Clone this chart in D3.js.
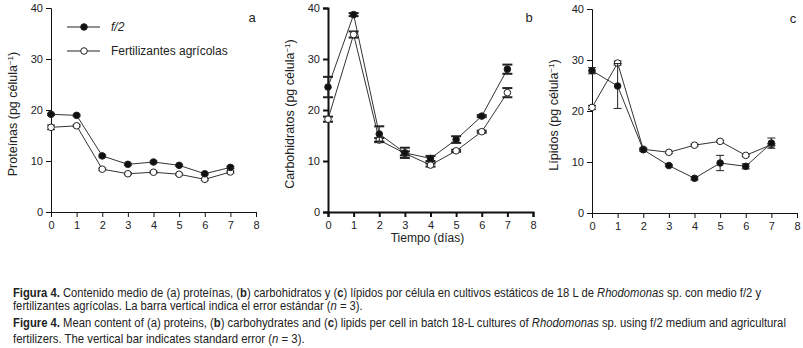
<!DOCTYPE html>
<html>
<head>
<meta charset="utf-8">
<script src="https://cdn.jsdelivr.net/npm/d3@7"></script>
<style>
  body { margin: 0; background: #fff; }
  svg text { font-family: "Liberation Sans Narrow", "Arial Narrow", "Liberation Sans", sans-serif; fill: #222; }
  .caption { font-size: 12px; }
</style>
</head>
<body>
<div id="wrapper"></div>
<script>
// data
const days = [0, 1, 2, 3, 4, 5, 6, 7]
const xTicks = [0, 1, 2, 3, 4, 5, 6, 7, 8]
const yTicks = [0, 10, 20, 30, 40]

const protF2 = [19.15, 18.95, 11.0, 9.35, 9.8, 9.15, 7.5, 8.75]
const protF2Err = [0.2, 0.2, 0.2, 0.2, 0.2, 0.2, 0.2, 0.2]
const protFert = [16.6, 16.9, 8.4, 7.5, 7.8, 7.4, 6.4, 7.85]
const protFertErr = [0.45, 0.2, 0.2, 0.2, 0.2, 0.2, 0.2, 0.2]

const carbF2 = [24.5, 38.7, 15.3, 11.6, 10.5, 14.2, 18.8, 28.0]
const carbF2Err = [2.0, 0.3, 1.5, 1.0, 0.5, 0.65, 0.2, 0.9]
const carbFert = [18.2, 34.8, 14.1, 11.5, 9.2, 12.0, 15.75, 23.4]
const carbFertErr = [0.5, 0.6, 0.4, 0.4, 0.3, 0.2, 0.2, 0.9]

const lipF2 = [27.9, 24.9, 12.4, 9.3, 6.8, 9.8, 9.15, 13.7]
const lipF2Err = [0.6, 4.4, 0.3, 0.2, 0.3, 1.5, 0.5, 1.0]
const lipFert = [20.7, 29.4, 12.5, 11.9, 13.3, 14.05, 11.3, 13.4]
const lipFertErr = [0.4, 0.4, 0.2, 0.2, 0.2, 0.2, 0.2, 0.2]

const legendLabels = ["f/2", "Fertilizantes agrícolas"]

const panels = [
  { letter: "a", title: "Proteínas", f2: protF2, f2Err: protF2Err, fert: protFert, fertErr: protFertErr,
    left: 51, right: 256, top: 8, bottom: 212, bold: false, legend: true },
  { letter: "b", title: "Carbohidratos", f2: carbF2, f2Err: carbF2Err, fert: carbFert, fertErr: carbFertErr,
    left: 328, right: 533, top: 8, bottom: 212, bold: true, legend: false },
  { letter: "c", title: "Lípidos", f2: lipF2, f2Err: lipF2Err, fert: lipFert, fertErr: lipFertErr,
    left: 592, right: 797, top: 9, bottom: 213, bold: false, legend: false },
]

const width = 803
const height = 348

const svg = d3.select("#wrapper")
  .append("svg")
    .attr("width", width)
    .attr("height", height)

panels.forEach(p => {
  const xScale = d3.scaleLinear().domain([0, 8]).range([p.left, p.right])
  const yScale = d3.scaleLinear().domain([0, 40]).range([p.bottom, p.top])
  const sw = p.bold ? 2 : 1
  const g = svg.append("g")

  // axes
  const xAxis = g.append("g")
      .attr("transform", `translate(0,${p.bottom})`)
      .call(d3.axisBottom(xScale).tickValues(xTicks).tickSize(5).tickPadding(4).tickFormat(d3.format("d")))
  const yAxis = g.append("g")
      .attr("transform", `translate(${p.left},0)`)
      .call(d3.axisLeft(yScale).tickValues(yTicks).tickSize(5).tickPadding(3).tickFormat(d3.format("d")))
  ;[xAxis, yAxis].forEach(ax => {
    ax.select(".domain").attr("stroke", "#111").attr("stroke-width", sw)
    ax.selectAll(".tick line").attr("stroke", "#111").attr("stroke-width", sw)
    ax.selectAll(".tick text").attr("fill", "#222").style("font-size", "11px")
  })

  // y title
  const yt = g.append("text")
      .attr("transform", `translate(${p.left - 34},${(p.top + p.bottom) / 2 + 4}) rotate(-90)`)
      .attr("text-anchor", "middle")
      .style("font-size", "12.5px")
  yt.append("tspan").text(`${p.title} (pg célula`)
  yt.append("tspan").attr("baseline-shift", "super").style("font-size", "8px").text("−1")
  yt.append("tspan").text(")")

  // panel letter
  g.append("text")
      .attr("x", xScale(8) - 4)
      .attr("y", yScale(37.3))
      .attr("text-anchor", "middle")
      .style("font-size", "13px")
      .style("font-family", "Liberation Sans, Arial, sans-serif")
      .text(p.letter)

  const line = d3.line()
      .x((d, i) => xScale(days[i]))
      .y(d => yScale(d))

  const series = [
    { vals: p.fert, err: p.fertErr, fill: "#fff" },
    { vals: p.f2, err: p.f2Err, fill: "#111" },
  ]

  series.forEach(s => {
    g.append("path")
        .attr("d", line(s.vals))
        .attr("fill", "none")
        .attr("stroke", "#333")
        .attr("stroke-width", 1)
  })

  series.forEach(s => {
    const eb = g.append("g")
    s.vals.forEach((v, i) => {
      const cx = xScale(days[i])
      const hi = yScale(v + s.err[i])
      const lo = yScale(v - s.err[i])
      const cw = p.bold ? 5 : 4
      eb.append("line").attr("x1", cx).attr("x2", cx).attr("y1", hi).attr("y2", lo)
        .attr("stroke", "#222").attr("stroke-width", 1)
      ;[hi, lo].forEach(yy => {
        eb.append("line").attr("x1", cx - cw).attr("x2", cx + cw).attr("y1", yy).attr("y2", yy)
          .attr("stroke", "#222").attr("stroke-width", p.bold ? 2 : 1)
      })
    })
    g.selectAll(null)
      .data(s.vals)
      .join("circle")
        .attr("cx", (d, i) => xScale(days[i]))
        .attr("cy", d => yScale(d))
        .attr("r", 3.3)
        .attr("fill", s.fill)
        .attr("stroke", "#222")
        .attr("stroke-width", 1)
  })

  if (p.legend) {
    const fills = ["#111", "#fff"]
    legendLabels.forEach((lab, i) => {
      const ly = 27 + i * 24
      g.append("line").attr("x1", 67).attr("x2", 100).attr("y1", ly).attr("y2", ly)
        .attr("stroke", "#222").attr("stroke-width", 1)
      g.append("circle").attr("cx", 84).attr("cy", ly).attr("r", 3.3)
        .attr("fill", fills[i]).attr("stroke", "#222")
      g.append("text").attr("x", 111).attr("y", ly + 4)
        .style("font-size", "12px")
        .style("font-style", i === 0 ? "italic" : "normal")
        .text(lab)
    })
  }

  if (p.letter === "b") {
    g.append("text")
        .attr("x", (p.left + p.right) / 2 - 3)
        .attr("y", 242)
        .attr("text-anchor", "middle")
        .style("font-size", "12px")
        .text("Tiempo (días)")
  }
})

// caption (justified in the source, so each line is scaled to a fixed width)
const captionLines = [
  [["b", "Figura 4."], ["n", " Contenido medio de (a) proteínas, ("], ["b", "b"], ["n", ") carbohidratos y ("], ["b", "c"],
   ["n", ") lípidos por célula en cultivos estáticos de 18 L de "], ["i", "Rhodomonas"], ["n", " sp. con medio f/2 y"]],
  [["n", "fertilizantes agrícolas. La barra vertical indica el error estándar ("], ["i", "n"], ["n", " = 3)."]],
  [["b", "Figure 4."], ["n", " Mean content of (a) proteins, ("], ["b", "b"], ["n", ") carbohydrates and ("], ["b", "c"],
   ["n", ") lipids per cell in batch 18-L cultures of "], ["i", "Rhodomonas"], ["n", " sp. using f/2 medium and agricultural"]],
  [["n", "fertilizers. The vertical bar indicates standard error ("], ["i", "n"], ["n", " = 3)."]],
]
const captionY = [297, 310, 327, 343]
const captionW = [749, 350, 774, 292]

captionLines.forEach((parts, i) => {
  const t = svg.append("text")
      .attr("class", "caption")
      .attr("x", 0)
      .attr("y", 0)
  parts.forEach(([k, s]) => {
    t.append("tspan")
      .style("font-weight", k === "b" ? "bold" : "normal")
      .style("font-style", k === "i" ? "italic" : "normal")
      .text(s)
  })
  const k = captionW[i] / t.node().getComputedTextLength()
  t.attr("transform", `translate(13,${captionY[i]}) scale(${k},1)`)
})
</script>
</body>
</html>
